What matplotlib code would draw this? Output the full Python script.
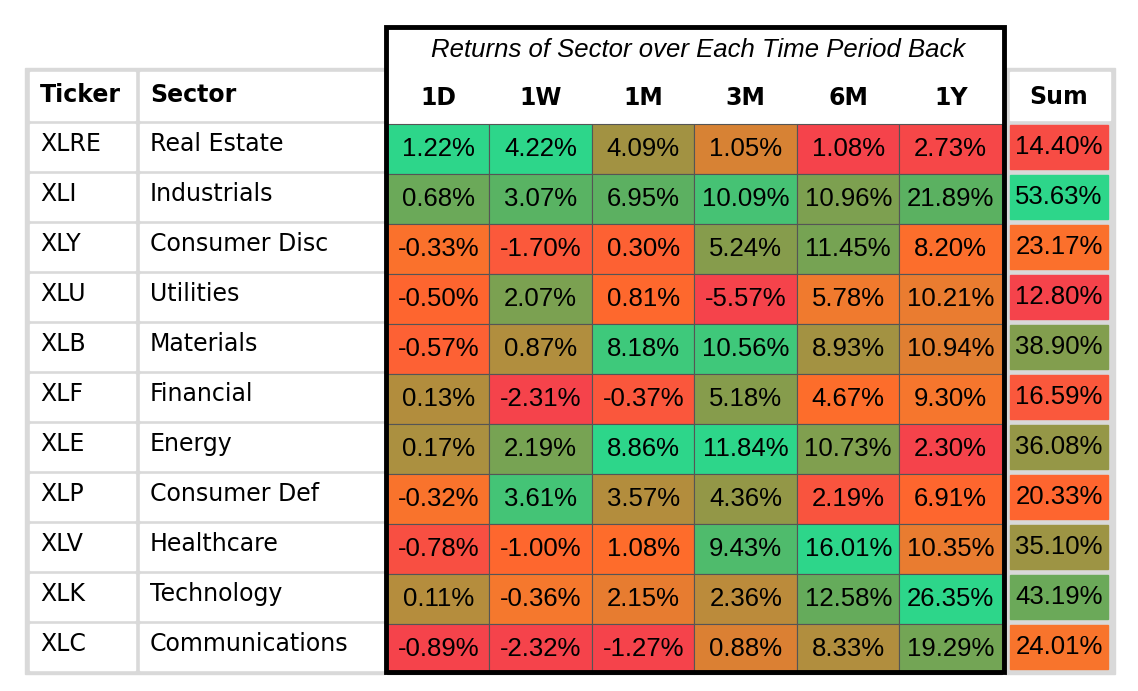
import numpy as np
import matplotlib.pyplot as plt
from matplotlib.patches import Rectangle
from matplotlib.colors import LinearSegmentedColormap

tickers = ["XLRE", "XLI", "XLY", "XLU", "XLB", "XLF", "XLE", "XLP", "XLV", "XLK", "XLC"]
sectors = ["Real Estate", "Industrials", "Consumer Disc", "Utilities", "Materials", "Financial",
           "Energy", "Consumer Def", "Healthcare", "Technology", "Communications"]
periods = ["1D", "1W", "1M", "3M", "6M", "1Y"]
returns = np.array([
    [1.22, 4.22, 4.09, 1.05, 1.08, 2.73],
    [0.68, 3.07, 6.95, 10.09, 10.96, 21.89],
    [-0.33, -1.70, 0.30, 5.24, 11.45, 8.20],
    [-0.50, 2.07, 0.81, -5.57, 5.78, 10.21],
    [-0.57, 0.87, 8.18, 10.56, 8.93, 10.94],
    [0.13, -2.31, -0.37, 5.18, 4.67, 9.30],
    [0.17, 2.19, 8.86, 11.84, 10.73, 2.30],
    [-0.32, 3.61, 3.57, 4.36, 2.19, 6.91],
    [-0.78, -1.00, 1.08, 9.43, 16.01, 10.35],
    [0.11, -0.36, 2.15, 2.36, 12.58, 26.35],
    [-0.89, -2.32, -1.27, 0.88, 8.33, 19.29],
])
sums = np.array([14.40, 53.63, 23.17, 12.80, 38.90, 16.59, 36.08, 20.33, 35.10, 43.19, 24.01])

cmap = LinearSegmentedColormap.from_list(
    "perf", [(0.0, "#f5434b"), (0.1, "#fb5a3a"), (0.22, "#ff6a2b"), (0.3, "#f5782d"),
             (0.45, "#bd8a3a"), (0.6, "#8a9a4a"), (0.8, "#5fae5e"), (1.0, "#2dd68a")])


def col_colors(col):
    n = (col - col.min()) / (col.max() - col.min())
    return [cmap(v) for v in n]


fig = plt.figure(figsize=(11.38, 6.91), dpi=100)
ax = fig.add_axes([0, 0, 1, 1])
ax.set_xlim(0, 1138)
ax.set_ylim(691, 0)
ax.axis("off")

grey = "#d9d9d9"
lab_font = "DejaVu Sans"
val_font = "Liberation Sans"
row_h = 50
top = 122

# left table background
ax.add_patch(Rectangle((25, 68), 360, top + row_h * 11 - 68 + 2, color=grey, zorder=0))
for i in range(12):
    y0 = 72 if i == 0 else top + (i - 1) * row_h + 2
    h = top - 72 - 2 if i == 0 else row_h - 4
    ax.add_patch(Rectangle((30, y0), 105, h, color="white", zorder=1))
    ax.add_patch(Rectangle((140, y0), 245, h, color="white", zorder=1))
ax.text(40, 95, "Ticker", fontsize=17, fontweight="bold", family=lab_font, va="center")
ax.text(150, 95, "Sector", fontsize=17, fontweight="bold", family=lab_font, va="center")
for i, (t, s) in enumerate(zip(tickers, sectors)):
    yc = top + i * row_h + row_h / 2 - 3
    ax.text(40, yc, t, fontsize=17, family=lab_font, va="center")
    ax.text(150, yc, s, fontsize=17, family=lab_font, va="center")

# returns grid
x0, cw = 387, 102.5
for j, p in enumerate(periods):
    ax.text(x0 + cw * (j + 0.5), 98, p, fontsize=17, fontweight="bold", family=lab_font,
            ha="center", va="center")
    cols = col_colors(returns[:, j])
    for i in range(len(tickers)):
        ax.add_patch(Rectangle((x0 + cw * j, top + 2 + i * row_h), cw, row_h, facecolor=cols[i],
                               edgecolor="#555555", lw=0.8, zorder=2))
        ax.text(x0 + cw * (j + 0.5), top + 2 + i * row_h + row_h / 2, f"{returns[i, j]:.2f}%",
                fontsize=18.5, family=val_font, ha="center", va="center", zorder=3)
ax.text(698, 50, "Returns of Sector over Each Time Period Back", fontsize=18.5, style="italic",
        family=val_font, ha="center", va="center")
ax.add_patch(Rectangle((386, 27), 618, 645, fill=False, edgecolor="black", lw=3.5, zorder=4))

# sum column
ax.add_patch(Rectangle((1005, 68), 110, top + row_h * 11 - 68 + 2, color=grey, zorder=0))
ax.add_patch(Rectangle((1010, 72), 100, top - 72 - 2, color="white", zorder=1))
ax.text(1059, 97, "Sum", fontsize=17, fontweight="bold", family=lab_font, ha="center", va="center")
scol = col_colors(sums)
for i, v in enumerate(sums):
    ax.add_patch(Rectangle((1010, top + i * row_h + 3), 98, row_h - 6, color=scol[i], zorder=1))
    ax.text(1059, top + i * row_h + row_h / 2, f"{v:.2f}%", fontsize=18.5, family=val_font,
            ha="center", va="center", zorder=3)

fig.savefig("out.png", dpi=100)
